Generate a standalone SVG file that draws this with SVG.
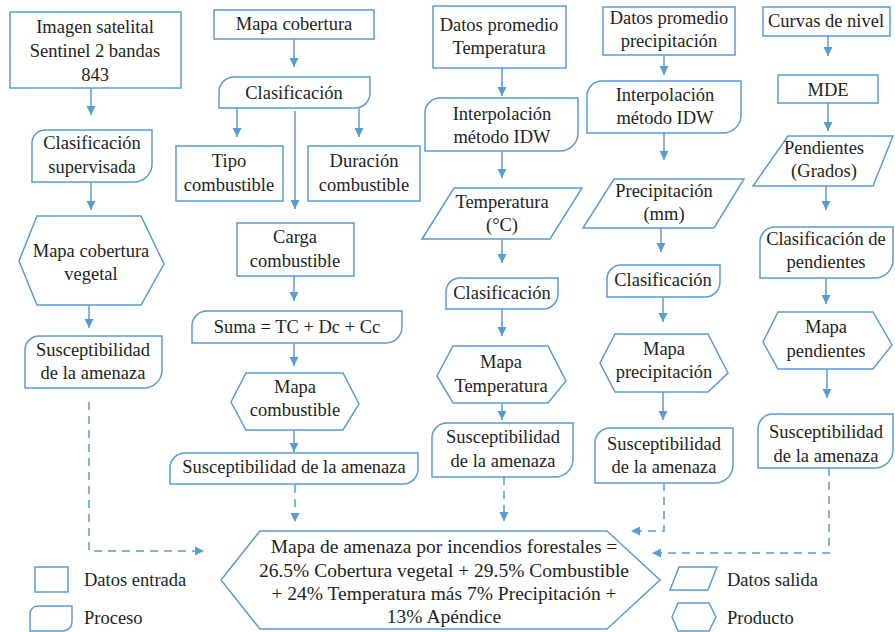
<svg xmlns="http://www.w3.org/2000/svg" width="895" height="632" viewBox="0 0 895 632">
  <style>
    .box { fill: #ffffff; stroke: #5b9bd5; stroke-width: 1.5; }
    .t { font-family: 'Liberation Serif', serif; font-size: 18.5px; fill: #231f20; text-anchor: middle; }
    .tb { font-family: 'Liberation Serif', serif; font-size: 19.5px; fill: #231f20; text-anchor: middle; }
    .tl { font-family: 'Liberation Serif', serif; font-size: 18.5px; fill: #231f20; text-anchor: start; }
    .ln { fill: none; stroke: #5b9bd5; stroke-width: 1.5; marker-end: url(#ah); }
    .dash { fill: none; stroke: #5b9bd5; stroke-width: 1.5; stroke-dasharray: 8 6; marker-end: url(#ah); }
  </style>
  <defs>
    <marker id="ah" markerUnits="userSpaceOnUse" markerWidth="10" markerHeight="10" refX="9" refY="5" orient="auto">
      <path d="M0,0.5 L9,5 L0,9.5 Z" fill="#5b9bd5"/>
    </marker>
  </defs>
  <rect width="895" height="632" fill="#ffffff"/>

  <!-- column 1: vegetation cover -->
  <g id="n-imagen">
    <rect class="box" x="10" y="12" width="171" height="76"/>
    <text class="t" x="95" y="33">Imagen satelital</text>
    <text class="t" x="95" y="57">Sentinel 2 bandas</text>
    <text class="t" x="95" y="81">843</text>
  </g>
  <g id="n-clasif-sup">
    <path class="box" d="M32,143 A13,13 0 0 1 45,130 H152 V164 A18,18 0 0 1 134,182 H32 Z"/>
    <text class="t" x="92" y="149">Clasificación</text>
    <text class="t" x="92" y="173">supervisada</text>
  </g>
  <g id="n-mapa-cob-veg">
    <polygon class="box" points="37,216 141,216 164,264 141,305 37,305 19,261"/>
    <text class="t" x="91" y="257">Mapa cobertura</text>
    <text class="t" x="91" y="280">vegetal</text>
  </g>
  <g id="n-susc-1">
    <path class="box" d="M25,350 A14,14 0 0 1 39,336 H162 V370 A18,18 0 0 1 144,388 H25 Z"/>
    <text class="t" x="93" y="356">Susceptibilidad</text>
    <text class="t" x="93" y="379">de la amenaza</text>
  </g>

  <!-- column 2: fuel -->
  <g id="n-mapa-cob">
    <rect class="box" x="214" y="10" width="160" height="29"/>
    <text class="t" x="294" y="30">Mapa cobertura</text>
  </g>
  <g id="n-clasif-2">
    <path class="box" d="M219,92 A15,15 0 0 1 234,77 H370 V93 A15,15 0 0 1 355,108 H219 Z"/>
    <text class="t" x="294" y="99">Clasificación</text>
  </g>
  <g id="n-tipo">
    <rect class="box" x="176" y="146" width="107" height="55"/>
    <text class="t" x="229" y="167">Tipo</text>
    <text class="t" x="229" y="191">combustible</text>
  </g>
  <g id="n-duracion">
    <rect class="box" x="308" y="146" width="112" height="55"/>
    <text class="t" x="364" y="167">Duración</text>
    <text class="t" x="364" y="191">combustible</text>
  </g>
  <g id="n-carga">
    <rect class="box" x="237" y="223" width="117" height="53"/>
    <text class="t" x="295" y="243">Carga</text>
    <text class="t" x="295" y="267">combustible</text>
  </g>
  <g id="n-suma">
    <path class="box" d="M192,326 A15,15 0 0 1 207,311 H402 V327 A16,16 0 0 1 386,343 H192 Z"/>
    <text class="t" x="297" y="333">Suma = TC + Dc + Cc</text>
  </g>
  <g id="n-mapa-comb">
    <polygon class="box" points="246,373 343,373 359,404 343,430 246,430 231,402"/>
    <text class="t" x="295" y="393">Mapa</text>
    <text class="t" x="295" y="416">combustible</text>
  </g>
  <g id="n-susc-2">
    <path class="box" d="M170,468 A15,15 0 0 1 185,453 H418 V469 A15,15 0 0 1 403,484 H170 Z"/>
    <text class="t" x="294" y="473">Susceptibilidad de la amenaza</text>
  </g>

  <!-- column 3: temperature -->
  <g id="n-datos-temp">
    <rect class="box" x="433" y="6" width="133" height="62"/>
    <text class="t" x="499" y="31">Datos promedio</text>
    <text class="t" x="499" y="54">Temperatura</text>
  </g>
  <g id="n-idw-temp">
    <path class="box" d="M425,113 A15,15 0 0 1 440,98 H578 V133 A18,18 0 0 1 560,151 H425 Z"/>
    <text class="t" x="502" y="120">Interpolación</text>
    <text class="t" x="502" y="143">método IDW</text>
  </g>
  <g id="n-temp">
    <polygon class="box" points="454,188 582,188 550,239 422,239"/>
    <text class="t" x="502" y="208">Temperatura</text>
    <text class="t" x="502" y="231">(°C)</text>
  </g>
  <g id="n-clasif-temp">
    <path class="box" d="M446,292 A14,14 0 0 1 460,278 H558 V294 A15,15 0 0 1 543,309 H446 Z"/>
    <text class="t" x="502" y="299">Clasificación</text>
  </g>
  <g id="n-mapa-temp">
    <polygon class="box" points="453,346 548,346 566,381 548,403 453,403 437,376"/>
    <text class="t" x="501" y="368">Mapa</text>
    <text class="t" x="501" y="392">Temperatura</text>
  </g>
  <g id="n-susc-3">
    <path class="box" d="M432,438 A15,15 0 0 1 447,423 H573 V459 A18,18 0 0 1 555,477 H432 Z"/>
    <text class="t" x="503" y="443">Susceptibilidad</text>
    <text class="t" x="503" y="467">de la amenaza</text>
  </g>

  <!-- column 4: precipitation -->
  <g id="n-datos-prec">
    <rect class="box" x="603" y="7" width="132" height="48"/>
    <text class="t" x="669" y="24">Datos promedio</text>
    <text class="t" x="669" y="47">precipitación</text>
  </g>
  <g id="n-idw-prec">
    <path class="box" d="M587,96 A15,15 0 0 1 602,81 H741 V115 A18,18 0 0 1 723,133 H587 Z"/>
    <text class="t" x="665" y="101">Interpolación</text>
    <text class="t" x="665" y="124">método IDW</text>
  </g>
  <g id="n-prec">
    <polygon class="box" points="614,179 744,179 714,228 583,228"/>
    <text class="t" x="664" y="197">Precipitación</text>
    <text class="t" x="664" y="220">(mm)</text>
  </g>
  <g id="n-clasif-prec">
    <path class="box" d="M607,279 A14,14 0 0 1 621,265 H720 V282 A15,15 0 0 1 705,297 H607 Z"/>
    <text class="t" x="663" y="286">Clasificación</text>
  </g>
  <g id="n-mapa-prec">
    <polygon class="box" points="615,334 708,334 728,373 708,392 615,392 600,363"/>
    <text class="t" x="664" y="355">Mapa</text>
    <text class="t" x="664" y="378">precipitación</text>
  </g>
  <g id="n-susc-4">
    <path class="box" d="M595,443 A15,15 0 0 1 610,428 H733 V465 A18,18 0 0 1 715,483 H595 Z"/>
    <text class="t" x="664" y="450">Susceptibilidad</text>
    <text class="t" x="664" y="473">de la amenaza</text>
  </g>

  <!-- column 5: slopes -->
  <g id="n-curvas">
    <rect class="box" x="763" y="7" width="127" height="29"/>
    <text class="t" x="826" y="27">Curvas de nivel</text>
  </g>
  <g id="n-mde">
    <rect class="box" x="778" y="75" width="100" height="28"/>
    <text class="t" x="828" y="96">MDE</text>
  </g>
  <g id="n-pend">
    <polygon class="box" points="788,136 893,136 873,186 753,186"/>
    <text class="t" x="824" y="154">Pendientes</text>
    <text class="t" x="824" y="177">(Grados)</text>
  </g>
  <g id="n-clasif-pend">
    <path class="box" d="M760,242 A15,15 0 0 1 775,227 H893 V260 A18,18 0 0 1 875,278 H760 Z"/>
    <text class="t" x="826" y="245">Clasificación de</text>
    <text class="t" x="826" y="268">pendientes</text>
  </g>
  <g id="n-mapa-pend">
    <polygon class="box" points="778,312 873,312 892,345 873,369 778,369 763,342"/>
    <text class="t" x="826" y="333">Mapa</text>
    <text class="t" x="826" y="357">pendientes</text>
  </g>
  <g id="n-susc-5">
    <path class="box" d="M758,429 A15,15 0 0 1 773,414 H893 V450 A18,18 0 0 1 875,468 H758 Z"/>
    <text class="t" x="826" y="438">Susceptibilidad</text>
    <text class="t" x="826" y="462">de la amenaza</text>
  </g>

  <!-- final hazard map -->
  <g id="n-mapa-amenaza">
    <polygon class="box" points="221,580 260,531 607,531 660,580 607,629 260,629"/>
    <text class="tb" x="444" y="553">Mapa de amenaza por incendios forestales =</text>
    <text class="tb" x="444" y="577">26.5% Cobertura vegetal + 29.5% Combustible</text>
    <text class="tb" x="444" y="600">+ 24% Temperatura más 7% Precipitación +</text>
    <text class="tb" x="444" y="623">13% Apéndice</text>
  </g>

  <!-- legend -->
  <g id="legend">
    <rect class="box" x="35" y="567" width="33" height="25"/>
    <text class="tl" x="84" y="586">Datos entrada</text>
    <path class="box" d="M30,614 A8,8 0 0 1 38,606 H72 V622 A9,9 0 0 1 63,631 H30 Z"/>
    <text class="tl" x="84" y="624">Proceso</text>
    <polygon class="box" points="679,567 717,567 708,590 670,590"/>
    <text class="tl" x="727" y="586">Datos salida</text>
    <polygon class="box" points="678,603 709,603 716,617 709,631 678,631 672,617"/>
    <text class="tl" x="727" y="624">Producto</text>
  </g>

  <!-- connectors -->
  <g id="connectors">
    <line class="ln" x1="91" y1="88" x2="91" y2="115"/>
    <line class="ln" x1="91" y1="182" x2="91" y2="210"/>
    <line class="ln" x1="89" y1="305" x2="89" y2="328"/>

    <line class="ln" x1="294" y1="39" x2="294" y2="67"/>
    <line class="ln" x1="237" y1="108" x2="237" y2="137"/>
    <line class="ln" x1="359" y1="108" x2="359" y2="137"/>
    <line class="ln" x1="295" y1="111" x2="295" y2="209"/>
    <line class="ln" x1="294" y1="276" x2="294" y2="301"/>
    <line class="ln" x1="294" y1="343" x2="294" y2="366"/>
    <line class="ln" x1="294" y1="430" x2="294" y2="452"/>

    <line class="ln" x1="502" y1="68" x2="502" y2="96"/>
    <line class="ln" x1="502" y1="151" x2="502" y2="178"/>
    <line class="ln" x1="502" y1="239" x2="502" y2="263"/>
    <line class="ln" x1="502" y1="309" x2="502" y2="336"/>
    <line class="ln" x1="502" y1="403" x2="502" y2="420"/>

    <line class="ln" x1="664" y1="55" x2="664" y2="75"/>
    <line class="ln" x1="664" y1="133" x2="664" y2="160"/>
    <line class="ln" x1="661" y1="228" x2="661" y2="252"/>
    <line class="ln" x1="663" y1="297" x2="663" y2="322"/>
    <line class="ln" x1="663" y1="392" x2="663" y2="420"/>

    <line class="ln" x1="828" y1="36" x2="828" y2="56"/>
    <line class="ln" x1="828" y1="103" x2="828" y2="131"/>
    <line class="ln" x1="826" y1="186" x2="826" y2="210"/>
    <line class="ln" x1="826" y1="278" x2="826" y2="304"/>
    <line class="ln" x1="827" y1="369" x2="827" y2="398"/>

    <polyline class="dash" points="89,402 89,551 204,551"/>
    <line class="dash" x1="295" y1="485" x2="295" y2="522"/>
    <line class="dash" x1="504" y1="477" x2="504" y2="521"/>
    <polyline class="dash" points="664,483 664,531 631,531"/>
    <polyline class="dash" points="829,468 829,553 652,553"/>
  </g>
</svg>
